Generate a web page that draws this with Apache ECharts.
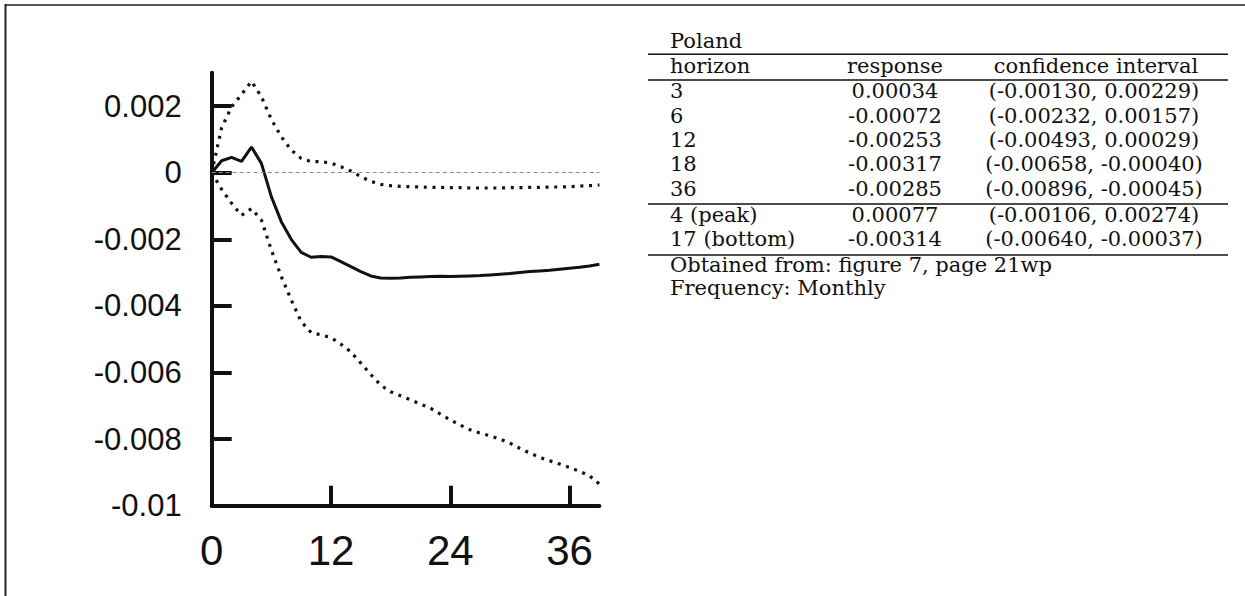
<!DOCTYPE html>
<html>
<head>
<meta charset="utf-8">
<script src="https://cdn.jsdelivr.net/npm/echarts@6/dist/echarts.min.js"></script>
<style>
html,body{margin:0;padding:0;background:#fff;}
#chart{width:1245px;height:596px;}
</style>
</head>
<body>
<div id="chart"></div>
<script>
// ---- data ----
const months = [0,1,2,3,4,5,6,7,8,9,10,11,12,13,14,15,16,17,18,19,20,21,22,23,24,25,26,27,28,29,30,31,32,33,34,35,36,37,38,39];
const response = [0,0.00036,0.00046,0.00034,0.00077,0.00028,-0.00072,-0.00147,-0.00200,-0.00239,-0.00254,-0.00252,-0.00253,-0.00267,-0.00282,-0.00297,-0.00310,-0.00316,-0.00317,-0.00316,-0.00314,-0.00313,-0.00312,-0.00311,-0.00312,-0.00311,-0.00310,-0.00309,-0.00307,-0.00305,-0.00303,-0.00300,-0.00297,-0.00295,-0.00293,-0.00290,-0.00287,-0.00284,-0.00280,-0.00275];
const upperBand = [0,0.00135,0.00198,0.00235,0.00274,0.00228,0.00160,0.00108,0.00068,0.00043,0.00033,0.00033,0.00029,0.00018,0.00005,-0.00012,-0.00026,-0.00035,-0.00039,-0.00041,-0.00042,-0.00043,-0.00044,-0.00044,-0.00045,-0.00045,-0.00046,-0.00046,-0.00046,-0.00046,-0.00045,-0.00045,-0.00044,-0.00044,-0.00043,-0.00043,-0.00042,-0.00040,-0.00039,-0.00037];
const lowerBand = [0,-0.00050,-0.00092,-0.00128,-0.00108,-0.00142,-0.00232,-0.00312,-0.00382,-0.00447,-0.00480,-0.00487,-0.00495,-0.00515,-0.00538,-0.00572,-0.00606,-0.00638,-0.00658,-0.00670,-0.00682,-0.00695,-0.00707,-0.00725,-0.00742,-0.00758,-0.00772,-0.00782,-0.00790,-0.00800,-0.00812,-0.00828,-0.00842,-0.00855,-0.00865,-0.00875,-0.00885,-0.00897,-0.00910,-0.00935];

const xTicks = [0,12,24,36];
const xTickLabels = ['0','12','24','36'];
const yTicks = [-0.01,-0.008,-0.006,-0.004,-0.002,0,0.002];
const yTickLabels = ['-0.01','-0.008','-0.006','-0.004','-0.002','0','0.002'];

const tableTitle = 'Poland';
const tableHeader = ['horizon','response','confidence interval'];
const tableHorizons = ['3','6','12','18','36','4 (peak)','17 (bottom)'];
const tableResponses = ['0.00034','-0.00072','-0.00253','-0.00317','-0.00285','0.00077','-0.00314'];
const tableIntervals = ['(-0.00130, 0.00229)','(-0.00232, 0.00157)','(-0.00493, 0.00029)','(-0.00658, -0.00040)','(-0.00896, -0.00045)','(-0.00106, 0.00274)','(-0.00640, -0.00037)'];
const tableNotes = ['Obtained from: figure 7, page 21wp','Frequency: Monthly'];

// ---- chart ----
const pairs = arr => months.map((m,i) => [m, arr[i]]);
const lookup = (ticks, labels) => v => {
  const i = ticks.findIndex(t => Math.abs(t - v) < 1e-9);
  return i >= 0 ? labels[i] : '';
};

const serif = '21px "DejaVu Serif"';
const col1 = 670, col2 = 895, col3 = 1094;
const lineL = 648, lineR = 1228;
const g = [];
function txt(s, x, baseline, align){
  g.push({type:'text', silent:true, style:{text:s, x:x, y:baseline-7, font:serif, fill:'#111', textAlign:align, textVerticalAlign:'middle'}});
}
function hline(y){
  g.push({type:'line', silent:true, shape:{x1:lineL, y1:y, x2:lineR, y2:y}, style:{stroke:'#111', lineWidth:1.5}});
}
// frame
g.push({type:'line', silent:true, shape:{x1:5, y1:5, x2:1245, y2:5}, style:{stroke:'#555', lineWidth:2}});
g.push({type:'line', silent:true, shape:{x1:5.5, y1:4, x2:5.5, y2:596}, style:{stroke:'#222', lineWidth:2}});
// table
txt(tableTitle, col1, 47.7, 'left');
hline(54.3);
txt(tableHeader[0], col1, 72.7, 'left');
txt(tableHeader[1], col2, 72.7, 'center');
txt(tableHeader[2], col3 + 2, 72.7, 'center');
hline(80);
const rowBase = [98.3,122.6,146.9,171.2,195.5,221.6,245.6];
tableHorizons.forEach((h,i) => {
  txt(h, col1, rowBase[i], 'left');
  txt(tableResponses[i], col2, rowBase[i], 'center');
  txt(tableIntervals[i], col3, rowBase[i], 'center');
});
hline(204);
hline(255);
txt(tableNotes[0], col1, 272, 'left');
txt(tableNotes[1], col1, 294.5, 'left');

const chart = echarts.init(document.getElementById('chart'), null, {renderer:'svg'});
const axisFont = '"Liberation Sans", Arial, sans-serif';
chart.setOption({
  animation:false,
  backgroundColor:'#fff',
  grid:{left:211.7, top:72.8, width:387.7, height:432.9, containLabel:false},
  xAxis:{
    type:'value', min:0, max:39, interval:12,
    axisLine:{show:true, onZero:false, lineStyle:{color:'#111', width:4}},
    axisTick:{show:true, inside:true, length:20, lineStyle:{color:'#111', width:4}},
    axisLabel:{show:true, margin:24, fontSize:42, fontFamily:axisFont, color:'#111', showMaxLabel:false, formatter:lookup(xTicks, xTickLabels)},
    splitLine:{show:false}
  },
  yAxis:{
    type:'value', min:-0.01, max:0.003, interval:0.002,
    axisLine:{show:true, onZero:false, lineStyle:{color:'#111', width:4}},
    axisTick:{show:true, inside:true, length:20, lineStyle:{color:'#111', width:4}},
    axisLabel:{show:true, margin:30, fontSize:31, fontFamily:axisFont, color:'#111', showMaxLabel:false, formatter:lookup(yTicks, yTickLabels)},
    splitLine:{show:false}
  },
  graphic:g,
  series:[
    {type:'line', data:[], z:1, silent:true,
     markLine:{silent:true, symbol:'none', label:{show:false}, lineStyle:{color:'#888', type:[4,3], width:1}, data:[{yAxis:0}]}},
    {type:'line', name:'upper', data:pairs(upperBand), showSymbol:false, z:3, silent:true,
     lineStyle:{color:'#111', width:3.2, type:[3,5.7], cap:'butt'}},
    {type:'line', name:'lower', data:pairs(lowerBand), showSymbol:false, z:3, silent:true,
     lineStyle:{color:'#111', width:3.2, type:[3,5.7], cap:'butt'}},
    {type:'line', name:'response', data:pairs(response), showSymbol:false, z:4, silent:true,
     lineStyle:{color:'#111', width:3}}
  ]
});
</script>
</body>
</html>
